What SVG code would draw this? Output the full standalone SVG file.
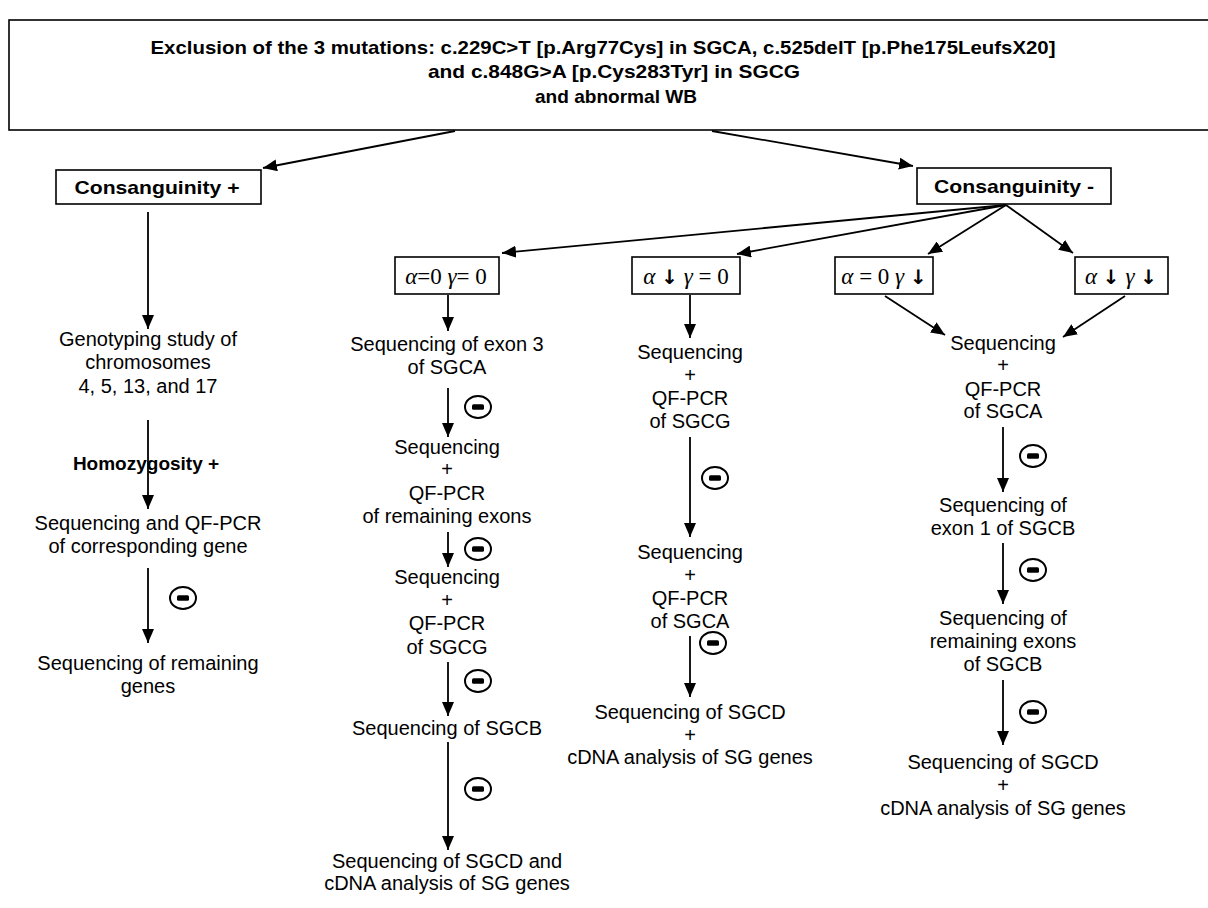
<svg xmlns="http://www.w3.org/2000/svg" width="1208" height="908" viewBox="0 0 1208 908">
<style>
.box{fill:#fff;stroke:#000;stroke-width:1.6}
.t{font-family:"Liberation Sans",Arial,sans-serif;font-size:20px;text-anchor:middle;fill:#000}
.b{font-family:"Liberation Sans",Arial,sans-serif;font-weight:bold;font-size:19px;text-anchor:middle;fill:#000}
.g{font-family:"Liberation Serif","Times New Roman",serif;font-size:23px;text-anchor:middle;fill:#000}
.g tspan.i{font-style:italic}
.g tspan.d{font-family:"DejaVu Sans",sans-serif;font-weight:bold;font-size:20px}
.c line{stroke:#000;stroke-width:1.8;marker-end:url(#ah)}
.m ellipse{fill:#fff;stroke:#000;stroke-width:2}
</style>
<defs>
<marker id="ah" viewBox="0 0 14 12" refX="14" refY="6" markerWidth="14" markerHeight="12" markerUnits="userSpaceOnUse" orient="auto"><path d="M0,0 L14,6 L0,12 z" fill="#000"/></marker>
<g id="minus" class="m"><ellipse cx="0" cy="0" rx="13" ry="11"/><rect x="-6" y="-2.8" width="12" height="5.6" rx="1.5" fill="#000"/></g>
</defs>
<rect width="1208" height="908" fill="#fff"/>

<g id="title">
<rect class="box" x="9" y="20" width="1210" height="110"/>
<text class="b" x="603" y="54" font-size="19" textLength="905" lengthAdjust="spacingAndGlyphs">Exclusion of the 3 mutations: c.229C&gt;T [p.Arg77Cys] in SGCA, c.525delT [p.Phe175LeufsX20]</text>
<text class="b" x="614" y="78" font-size="19" textLength="372" lengthAdjust="spacingAndGlyphs">and c.848G&gt;A [p.Cys283Tyr] in SGCG</text>
<text class="b" x="616" y="103" font-size="19" textLength="162" lengthAdjust="spacingAndGlyphs">and abnormal WB</text>
</g>

<g id="consPlus">
<rect class="box" x="56" y="170" width="205" height="34"/>
<text class="b" x="157" y="194" textLength="165" lengthAdjust="spacingAndGlyphs">Consanguinity +</text>
</g>
<g id="consMinus">
<rect class="box" x="917" y="168" width="194" height="36"/>
<text class="b" x="1014" y="193" textLength="160" lengthAdjust="spacingAndGlyphs">Consanguinity -</text>
</g>

<g id="a0g0"><rect class="box" x="395" y="257" width="104" height="37"/>
<text class="g" x="446" y="284"><tspan class="i">α</tspan>=0 <tspan class="i">γ</tspan>= 0</text></g>
<g id="adg0"><rect class="box" x="632" y="257" width="108" height="37"/>
<text class="g" x="686" y="284"><tspan class="i">α</tspan> <tspan class="d">↓︎</tspan> <tspan class="i">γ</tspan> = 0</text></g>
<g id="a0gd"><rect class="box" x="835" y="257" width="98" height="37"/>
<text class="g" x="884" y="284"><tspan class="i">α</tspan> = 0 <tspan class="i">γ</tspan> <tspan class="d">↓︎</tspan></text></g>
<g id="adgd"><rect class="box" x="1075" y="257" width="93" height="37"/>
<text class="g" x="1121" y="284"><tspan class="i">α</tspan> <tspan class="d">↓︎</tspan> <tspan class="i">γ</tspan> <tspan class="d">↓︎</tspan></text></g>

<g id="col1">
<text class="t" x="148" y="346">Genotyping study of</text>
<text class="t" x="148" y="369">chromosomes</text>
<text class="t" x="148" y="393">4, 5, 13, and 17</text>
<text class="b" x="146" y="470" font-size="20">Homozygosity +</text>
<text class="t" x="148" y="530">Sequencing and QF-PCR</text>
<text class="t" x="148" y="553">of corresponding gene</text>
<text class="t" x="148" y="670">Sequencing of remaining</text>
<text class="t" x="148" y="693">genes</text>
</g>

<g id="col2">
<text class="t" x="447" y="351">Sequencing of exon 3</text>
<text class="t" x="447" y="374">of SGCA</text>
<text class="t" x="447" y="454">Sequencing</text>
<text class="t" x="447" y="476">+</text>
<text class="t" x="447" y="500">QF-PCR</text>
<text class="t" x="447" y="523">of remaining exons</text>
<text class="t" x="447" y="584">Sequencing</text>
<text class="t" x="447" y="607">+</text>
<text class="t" x="447" y="630">QF-PCR</text>
<text class="t" x="447" y="654">of SGCG</text>
<text class="t" x="447" y="735">Sequencing of SGCB</text>
<text class="t" x="447" y="868">Sequencing of SGCD and</text>
<text class="t" x="447" y="890">cDNA analysis of SG genes</text>
</g>

<g id="col3">
<text class="t" x="690" y="359">Sequencing</text>
<text class="t" x="690" y="382">+</text>
<text class="t" x="690" y="405">QF-PCR</text>
<text class="t" x="690" y="428">of SGCG</text>
<text class="t" x="690" y="559">Sequencing</text>
<text class="t" x="690" y="582">+</text>
<text class="t" x="690" y="605">QF-PCR</text>
<text class="t" x="690" y="628">of SGCA</text>
<text class="t" x="690" y="719">Sequencing of SGCD</text>
<text class="t" x="690" y="742">+</text>
<text class="t" x="690" y="764">cDNA analysis of SG genes</text>
</g>

<g id="col4">
<text class="t" x="1003" y="350">Sequencing</text>
<text class="t" x="1003" y="372">+</text>
<text class="t" x="1003" y="396">QF-PCR</text>
<text class="t" x="1003" y="418">of SGCA</text>
<text class="t" x="1003" y="512">Sequencing of</text>
<text class="t" x="1003" y="535">exon 1 of SGCB</text>
<text class="t" x="1003" y="625">Sequencing of</text>
<text class="t" x="1003" y="648">remaining exons</text>
<text class="t" x="1003" y="671">of SGCB</text>
<text class="t" x="1003" y="769">Sequencing of SGCD</text>
<text class="t" x="1003" y="792">+</text>
<text class="t" x="1003" y="815">cDNA analysis of SG genes</text>
</g>

<g id="connectors" class="c">
<line x1="455" y1="131" x2="263" y2="168"/>
<line x1="712" y1="131" x2="913" y2="166"/>
<line x1="1006" y1="205" x2="502" y2="253"/>
<line x1="1006" y1="205" x2="737" y2="254"/>
<line x1="1006" y1="205" x2="928" y2="254"/>
<line x1="1006" y1="205" x2="1073" y2="253"/>
<line x1="885" y1="296" x2="945" y2="335"/>
<line x1="1125" y1="296" x2="1063" y2="337"/>
<line x1="148" y1="212" x2="148" y2="329"/>
<line x1="148" y1="420" x2="148" y2="509"/>
<line x1="148" y1="568" x2="148" y2="643"/>
<line x1="448" y1="295" x2="448" y2="331"/>
<line x1="448" y1="388" x2="448" y2="437"/>
<line x1="448" y1="532" x2="448" y2="567"/>
<line x1="448" y1="662" x2="448" y2="716"/>
<line x1="448" y1="742" x2="448" y2="850"/>
<line x1="690" y1="295" x2="690" y2="338"/>
<line x1="690" y1="437" x2="690" y2="537"/>
<line x1="690" y1="636" x2="690" y2="697"/>
<line x1="1003" y1="427" x2="1003" y2="492"/>
<line x1="1003" y1="543" x2="1003" y2="604"/>
<line x1="1003" y1="680" x2="1003" y2="745"/>
</g>

<g id="minusSigns">
<use href="#minus" x="183" y="598"/>
<use href="#minus" x="478" y="407"/>
<use href="#minus" x="478" y="549"/>
<use href="#minus" x="478" y="681"/>
<use href="#minus" x="478" y="789"/>
<use href="#minus" x="715" y="478"/>
<use href="#minus" x="713" y="643"/>
<use href="#minus" x="1033" y="456"/>
<use href="#minus" x="1033" y="570"/>
<use href="#minus" x="1033" y="712"/>
</g>
</svg>
